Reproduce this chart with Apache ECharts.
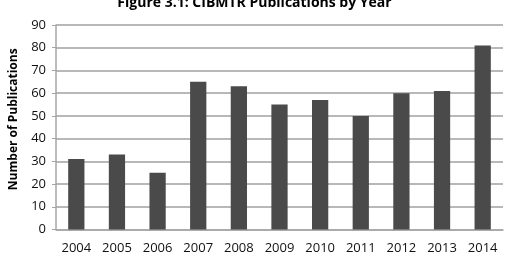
<!DOCTYPE html>
<html>
<head>
<meta charset="utf-8">
<script src="https://cdn.jsdelivr.net/npm/echarts@6/dist/echarts.min.js"></script>
<style>
  html, body { margin: 0; padding: 0; background: #fff; }
  #chart { width: 509px; height: 261px; }
</style>
</head>
<body>
<div id="chart"></div>
<script>
// publications per year
var years = ['2004', '2005', '2006', '2007', '2008', '2009', '2010', '2011', '2012', '2013', '2014']
var publications = [31, 33, 25, 65, 63, 55, 57, 50, 60, 61, 81]

var myChart = echarts.init(document.getElementById('chart'))
var font = 'Open Sans'
var option = {
  animation: false,
  title: {
    text: 'Figure 3.1: CIBMTR Publications by Year',
    left: 'center',
    top: -9,
    textStyle: { fontFamily: font, fontSize: 14, fontWeight: 'bold', color: '#000' }
  },
  grid: { left: 52, right: 6, top: 25, bottom: 31.5 },
  xAxis: {
    type: 'category',
    data: years,
    axisLine: { lineStyle: { color: '#a6a6a6', width: 1.5 } },
    axisTick: { show: false },
    axisLabel: { fontFamily: font, fontSize: 13, color: '#111', margin: 12 }
  },
  yAxis: {
    type: 'value',
    min: 0,
    max: 90,
    interval: 10,
    name: 'Number of Publications',
    nameLocation: 'middle',
    nameGap: 36,
    nameTextStyle: { fontFamily: font, fontSize: 12, fontWeight: 'bold', color: '#000', padding: [0, 0, 0, 16] },
    axisLine: { show: true, lineStyle: { color: '#a6a6a6', width: 1.5 } },
    axisTick: { show: true, length: 4, lineStyle: { color: '#a6a6a6' } },
    axisLabel: { fontFamily: font, fontSize: 13, color: '#111', margin: 10 },
    splitLine: { lineStyle: { color: '#a0a0a0', width: 1.5 } }
  },
  series: [
    {
      type: 'bar',
      data: publications,
      barWidth: '40%',
      itemStyle: { color: '#4a4a4a' }
    }
  ]
}
myChart.setOption(option)
</script>
</body>
</html>
